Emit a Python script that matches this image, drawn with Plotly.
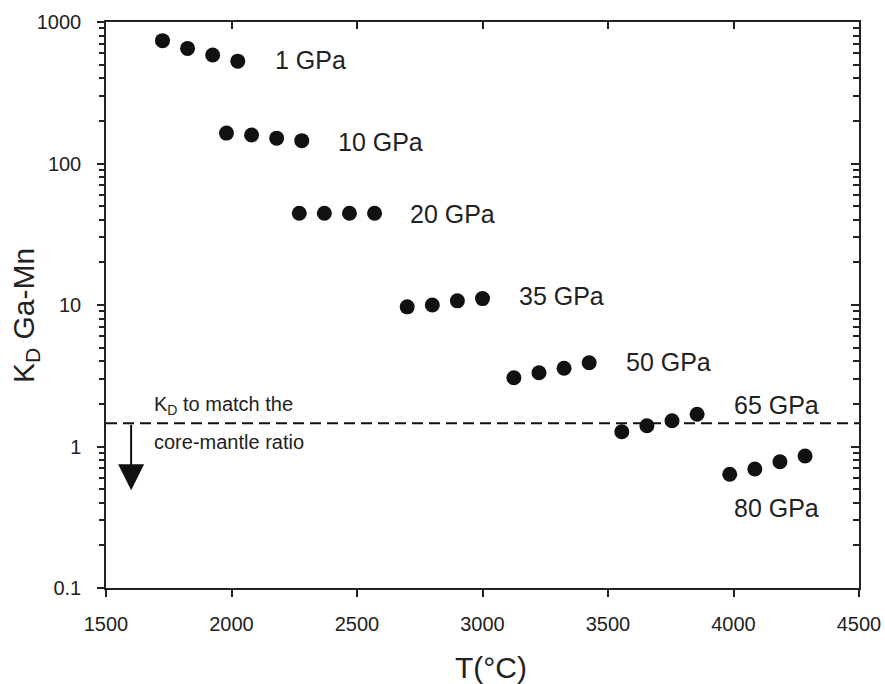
import math
import plotly.graph_objects as go

# ---- data ----
pressures = ["1 GPa", "10 GPa", "20 GPa", "35 GPa", "50 GPa", "65 GPa", "80 GPa"]
temps = [
    [1725, 1825, 1925, 2025],
    [1980, 2080, 2180, 2280],
    [2270, 2370, 2470, 2570],
    [2700, 2800, 2900, 3000],
    [3125, 3225, 3325, 3425],
    [3555, 3655, 3755, 3855],
    [3985, 4085, 4185, 4285],
]
kd_values = [
    [738, 651, 584, 529],
    [164, 159, 151, 145],
    [44.5, 44.5, 44.5, 44.5],
    [9.7, 10.0, 10.7, 11.1],
    [3.06, 3.32, 3.57, 3.91],
    [1.27, 1.40, 1.52, 1.69],
    [0.637, 0.694, 0.78, 0.857],
]
kd_target = 1.46
arrow_tip = 0.49
arrow_x = 1600

x_ticks = [1500, 2000, 2500, 3000, 3500, 4000, 4500]
y_range_log = [-1, 3]
x_range = [1500, 4500]

# label anchor positions (T, KD)
label_pos = [
    (2164, 539), (2416, 142.6), (2703, 44), (3138, 11.5),
    (3565, 3.97), (3995, 1.96), (3995, 0.367),
]

FONT = "Arial, Liberation Sans, sans-serif"
INK = "#222222"

fig = go.Figure()

for name, xs, ys in zip(pressures, temps, kd_values):
    fig.add_trace(go.Scatter(
        x=xs, y=ys, mode="markers", name=name, showlegend=False,
        marker=dict(size=15, color="#111111"),
    ))

# dashed target line on overlay axes
fig.add_trace(go.Scatter(
    x=x_range, y=[kd_target, kd_target], mode="lines", showlegend=False,
    line=dict(color="#111111", width=2, dash="11px,6px"),
    xaxis="x2", yaxis="y2",
))

annotations = []
for name, (lx, ly) in zip(pressures, label_pos):
    annotations.append(dict(
        x=lx, y=math.log10(ly), xref="x", yref="y", text=name, showarrow=False,
        xanchor="left", yanchor="middle", font=dict(family=FONT, size=25, color=INK),
    ))

annotations += [
    dict(x=1682, y=math.log10(1.96), xref="x", yref="y",
         text="K<sub>D</sub> to match the", showarrow=False,
         xanchor="left", yanchor="middle", font=dict(family=FONT, size=20, color=INK)),
    dict(x=1682, y=math.log10(1.08), xref="x", yref="y",
         text="core-mantle ratio", showarrow=False,
         xanchor="left", yanchor="middle", font=dict(family=FONT, size=20, color=INK)),
    dict(x=arrow_x, y=math.log10(arrow_tip), xref="x", yref="y",
         ax=arrow_x, ay=math.log10(kd_target), axref="x", ayref="y",
         text="", showarrow=True, arrowhead=2, arrowsize=2.6, arrowwidth=2,
         arrowcolor="#111111"),
    dict(x=-0.1062, y=0.4806, xref="paper", yref="paper",
         text="K<sub>D</sub> Ga-Mn", textangle=-90, showarrow=False,
         xanchor="center", yanchor="middle", font=dict(family=FONT, size=30, color=INK)),
    dict(x=0.511, y=-0.1413, xref="paper", yref="paper",
         text="T(°C)", showarrow=False,
         xanchor="center", yanchor="middle", font=dict(family=FONT, size=30, color=INK)),
]

fig.update_layout(
    width=885, height=684,
    margin=dict(l=106, r=26, t=22, b=96, autoexpand=False),
    paper_bgcolor="white", plot_bgcolor="white",
    font=dict(family=FONT, color=INK),
    annotations=annotations,
    xaxis=dict(
        range=x_range, tickvals=x_ticks, ticks="outside", ticklen=7, tickwidth=1.5,
        tickcolor=INK, showline=True, linecolor=INK, linewidth=1.5, showgrid=False,
        zeroline=False, tickfont=dict(size=20, color=INK), ticklabelstandoff=10,
        automargin=False,
    ),
    yaxis=dict(
        type="log", range=y_range_log, dtick=1, ticks="outside", ticklen=7, tickwidth=1.5,
        tickcolor=INK, showline=True, linecolor=INK, linewidth=1.5, showgrid=False,
        zeroline=False, tickfont=dict(size=20, color=INK), ticklabelstandoff=12,
        exponentformat="none", automargin=False,
        minor=dict(ticks="outside", ticklen=5, tickwidth=1.5, tickcolor=INK,
                   dtick="D1", showgrid=False),
    ),
    xaxis2=dict(
        range=x_range, tickvals=x_ticks, overlaying="x", side="top", anchor="y2",
        ticks="inside", ticklen=7, tickwidth=1.5, tickcolor=INK, showticklabels=False,
        showline=True, linecolor=INK, linewidth=1.5, showgrid=False, zeroline=False,
        automargin=False,
    ),
    yaxis2=dict(
        type="log", range=y_range_log, dtick=1, overlaying="y", side="right", anchor="x2",
        ticks="inside", ticklen=8, tickwidth=1.5, tickcolor=INK, showticklabels=False,
        showline=True, linecolor=INK, linewidth=1.5, showgrid=False, zeroline=False,
        automargin=False,
        minor=dict(ticks="inside", ticklen=6, tickwidth=1.5, tickcolor=INK,
                   dtick="D1", showgrid=False),
    ),
)

fig.write_html("out.html")
